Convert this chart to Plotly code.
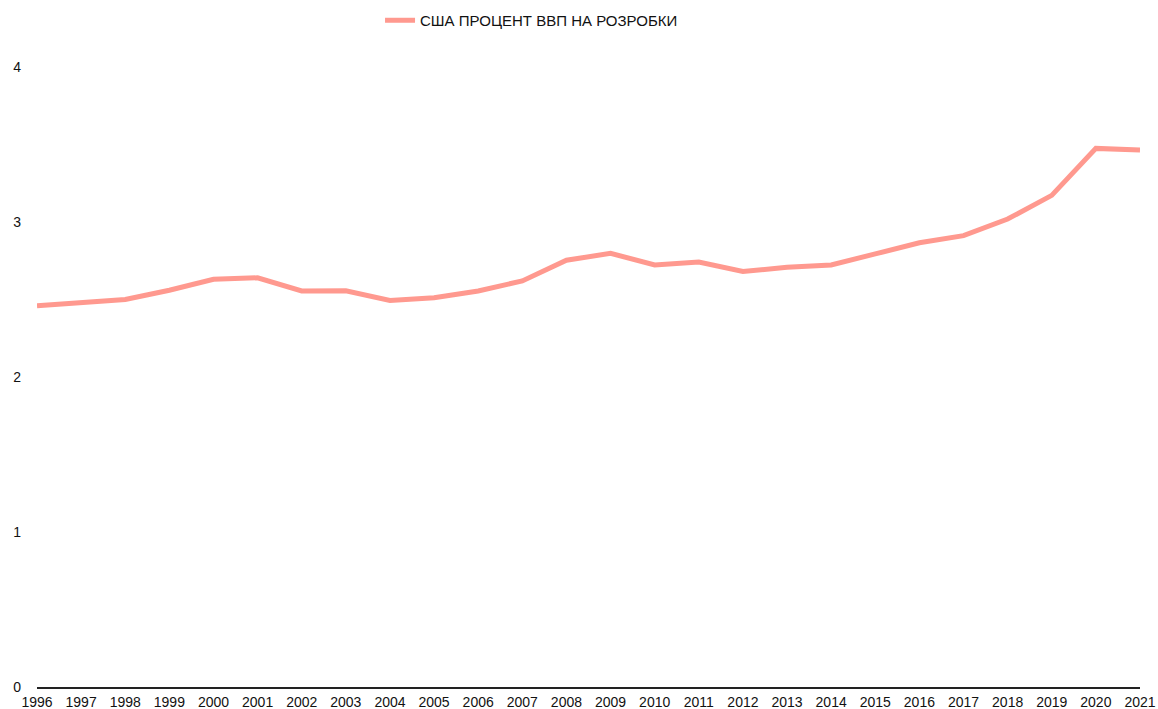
import plotly.graph_objects as go

years = list(range(1996, 2022))
rd_share = [2.46, 2.48, 2.50, 2.56, 2.63, 2.64, 2.555, 2.556, 2.494, 2.512, 2.555, 2.62,
            2.753, 2.798, 2.723, 2.742, 2.681, 2.708, 2.723, 2.794, 2.866, 2.912,
            3.019, 3.172, 3.475, 3.465]
series_name = "США ПРОЦЕНТ ВВП НА РОЗРОБКИ"
y_ticks = [0, 1, 2, 3, 4]

fig = go.Figure()
fig.add_trace(go.Scatter(
    x=years, y=rd_share, mode="lines", name=series_name,
    line=dict(color="#FF998F", width=5),
))

fig.update_layout(
    width=1158, height=709,
    margin=dict(l=37, r=18, t=67, b=22, autoexpand=False),
    paper_bgcolor="white", plot_bgcolor="white",
    font=dict(family="Liberation Sans, Arial, sans-serif", size=15, color="#111"),
    showlegend=True,
    legend=dict(orientation="h", x=0.311, xanchor="left",
                y=1.1016, yanchor="top", font=dict(size=15),
                itemwidth=30, bgcolor="rgba(0,0,0,0)"),
    xaxis=dict(range=[1996, 2021], tickmode="array", tickvals=years,
               ticktext=[str(y) for y in years], showgrid=False, zeroline=False,
               showline=True, linecolor="#222", linewidth=1.5,
               ticks="", ticklabelstandoff=1, automargin=False,
               tickfont=dict(size=14)),
    yaxis=dict(range=[0, 4], tickvals=y_ticks, showgrid=False, zeroline=False,
               showline=False, ticks="", ticklabelstandoff=15, automargin=False,
               tickfont=dict(size=14)),
)

fig.write_html(
    "out.html",
    config={"displayModeBar": False},
    post_script="document.body.style.margin='0';document.body.style.overflow='hidden';",
)
